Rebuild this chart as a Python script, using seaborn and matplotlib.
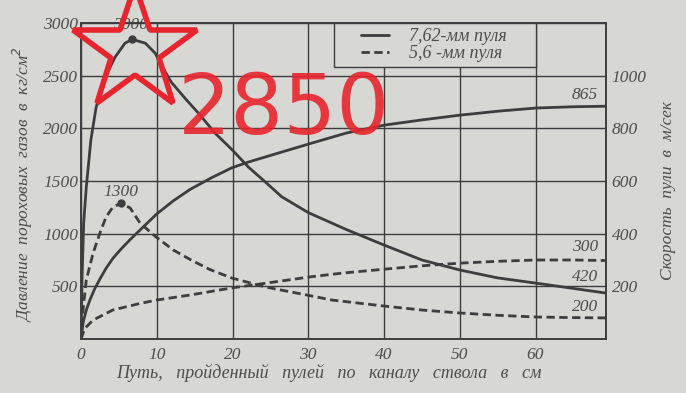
import numpy as np
import pandas as pd
import matplotlib
matplotlib.use("Agg")
import matplotlib.pyplot as plt
import seaborn as sns
from matplotlib.patches import Rectangle
from matplotlib.lines import Line2D

# ---------------- data ----------------
# pressure, 7.62 mm bullet (kg/cm^2) vs path (cm)
p762_x = [0, 0.15, 0.35, 0.7, 1.3, 2.0, 3.2, 4.5, 5.8, 6.75, 8.5, 9.8, 10.6, 11.9, 13.8,
          15.5, 17.7, 19.9, 22.1, 24.5, 26.5, 30, 35, 40, 45, 50, 55, 60, 65, 69.3]
p762_y = [0, 600, 1100, 1442, 1888, 2201, 2486, 2676, 2808, 2845, 2808, 2713, 2600, 2440, 2280,
          2144, 1954, 1800, 1632, 1480, 1350, 1200, 1040, 892, 750, 655, 580, 531, 480, 436]
# pressure, 5.6 mm bullet
p56_x = [0, 0.3, 0.7, 1.6, 2.5, 3.3, 4.2, 5.3, 6.5, 7.8, 9.8, 12.2, 14.4, 17, 19.9, 24.4,
         30, 33.1, 40, 45, 50, 55, 60, 65, 69.3]
p56_y = [0, 300, 560, 816, 1006, 1157, 1252, 1290, 1243, 1100, 975, 844, 755, 660, 579, 493,
         415, 370, 313, 275, 247, 225, 209, 203, 200]
# velocity, 7.62 mm bullet (m/s)
v762_x = [0, 0.3, 0.7, 1.2, 1.8, 2.5, 3.3, 4.2, 5.3, 6.5, 8.2, 10, 12.2, 14.4, 17.2, 19.9,
          22.1, 26.5, 30, 35, 40, 45, 50, 55, 60, 65, 69.3]
v762_y = [0, 65, 110, 150, 190, 228, 268, 306, 342, 378, 425, 475, 525, 568, 612, 650,
          672, 710, 740, 782, 812, 832, 850, 865, 877, 882, 884]
# velocity, 5.6 mm bullet
v56_x = [0, 0.5, 1.6, 4.2, 7.8, 10, 14.4, 19.9, 24.4, 30, 34.4, 40, 45, 50, 55, 60, 65, 69.3]
v56_y = [0, 40, 72, 110, 135, 148, 167, 194, 212, 235, 250, 265, 278, 288, 295, 300, 300, 298]

series_names = ["7,62-мм пуля", "5,6 -мм пуля"]
x_ticks = [0, 10, 20, 30, 40, 50, 60]
p_ticks = [500, 1000, 1500, 2000, 2500, 3000]
v_ticks = [200, 400, 600, 800, 1000]
peak_labels = ["3000", "1300"]
end_labels = ["865", "300", "420", "200"]
note_text = "2850"

xlabel = "Путь,   пройденный   пулей   по   каналу   ствола   в   см"
ylabel_left = "Давление  пороховых  газов  в  кг/см$^2$"
ylabel_right = "Скорость  пули  в  м/сек"

# ---------------- style ----------------
BG = "#d7d7d4"
INK = "#3d3d3d"
TXT = "#4d4d4d"
RED = "#e8252f"
SERIF = ["Liberation Serif", "DejaVu Serif"]

sns.set_style("white")
plt.rcParams["font.family"] = SERIF
plt.rcParams["font.style"] = "italic"

press = pd.concat([
    pd.DataFrame({"x": p762_x, "val": p762_y, "bullet": series_names[0]}),
    pd.DataFrame({"x": p56_x, "val": p56_y, "bullet": series_names[1]}),
])
vel = pd.concat([
    pd.DataFrame({"x": v762_x, "val": v762_y, "bullet": series_names[0]}),
    pd.DataFrame({"x": v56_x, "val": v56_y, "bullet": series_names[1]}),
])
dashes = {series_names[0]: "", series_names[1]: (3.0, 1.6)}

fig = plt.figure(figsize=(6.86, 3.93), dpi=100, facecolor=BG)
ax = fig.add_axes([81 / 686, 54 / 393, 525 / 686, 316 / 393])
ax.set_facecolor(BG)

sns.lineplot(data=press, x="x", y="val", style="bullet", dashes=dashes, color=INK,
             linewidth=2.0, ax=ax, legend=False, sort=False)
ax2 = ax.twinx()
sns.lineplot(data=vel, x="x", y="val", style="bullet", dashes=dashes, color=INK,
             linewidth=2.0, ax=ax2, legend=False, sort=False)

# peak dots
i1 = int(np.argmax(p762_y)); i2 = int(np.argmax(p56_y))
ax.plot([p762_x[i1]], [p762_y[i1]], "o", color=INK, ms=5, zorder=3)
ax.plot([p56_x[i2]], [p56_y[i2]], "o", color=INK, ms=5, zorder=3)

# axes limits, ticks, grid
ax.set_xlim(0, 69.3)
ax.set_ylim(0, 3000)
ax2.set_ylim(0, 1200)
ax.set_xticks(x_ticks)
ax.set_xticklabels([str(t) for t in x_ticks])
ax.set_yticks([0] + p_ticks)
ax.set_yticklabels([""] + [str(t) for t in p_ticks])
ax2.set_yticks(v_ticks)
ax2.set_yticklabels([str(t) for t in v_ticks])
ax.tick_params(axis="both", length=0, labelsize=12.5, labelcolor=TXT)
ax.tick_params(axis="x", pad=6)
ax.tick_params(axis="y", pad=2)
ax2.tick_params(axis="y", length=0, labelsize=12.5, labelcolor=TXT, pad=4)
ax.grid(True, color=INK, linewidth=1.0)
ax.set_axisbelow(True)
for a in (ax, ax2):
    for s in a.spines.values():
        s.set_color(INK)
        s.set_linewidth(1.2)

ax.set_xlabel(xlabel, fontsize=13, color=TXT)
ax.xaxis.set_label_coords(0.472, -0.08)
ax.set_ylabel(ylabel_left, fontsize=12.5, color=TXT)
ax.yaxis.set_label_coords(-0.088, 0.49)
ax2.set_ylabel(ylabel_right, fontsize=12.5, color=TXT)
ax2.yaxis.set_label_coords(1.103, 0.47)

# legend box
ax.add_patch(Rectangle((33.4, 2580), 60 - 33.4, 420, facecolor=BG, edgecolor=INK,
                       linewidth=1.0, zorder=1.5))
handles = [Line2D([], [], color=INK, lw=2.0),
           Line2D([], [], color=INK, lw=2.0, dashes=(3.0, 1.6))]
leg = ax.legend(handles, series_names, loc="center", bbox_to_anchor=(0.672, 0.930),
                frameon=False, fontsize=13, handlelength=1.6, handletextpad=1.1,
                labelspacing=0.0, labelcolor=TXT)
leg.set_zorder(5)

# value labels
ax.text(6.5, 2979, peak_labels[0], ha="center", va="center", fontsize=12.5, color=TXT)
ax.text(5.2, 1395, peak_labels[1], ha="center", va="center", fontsize=12.5, color=TXT)
for lab, yy in zip(end_labels, [2315, 873, 588, 304]):
    ax.text(66.5, yy, lab, ha="center", va="center", fontsize=12.5, color=TXT)

# red hand-drawn annotation
ax2.plot([7.15], [2742], transform=ax.transData, marker="*", ms=94, mfc="none",
         mec=RED, mew=4, clip_on=False, zorder=10)
ax2.text(12.8, 2170, note_text, transform=ax.transData, fontsize=60, color=RED,
         family="DejaVu Sans", style="normal", ha="left", va="center", zorder=10,
         alpha=0.9)

fig.savefig("out.png", dpi=100, facecolor=BG)
